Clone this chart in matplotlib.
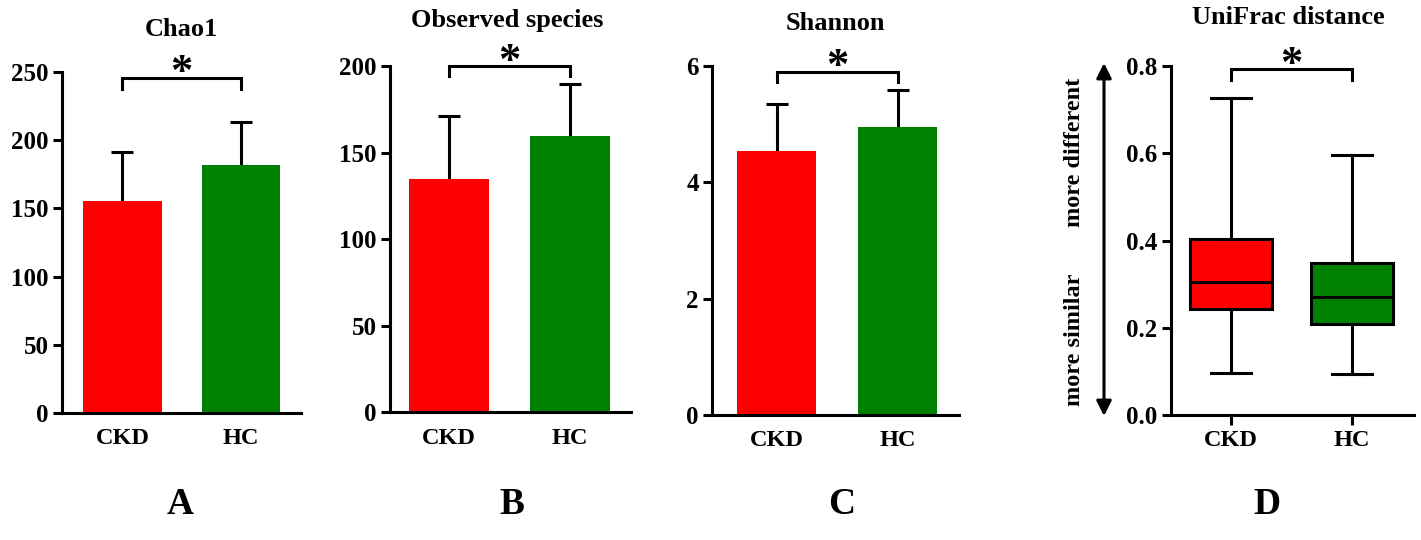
import matplotlib
matplotlib.use("Agg")
import matplotlib.pyplot as plt

# data
groups = ["CKD", "HC"]
colors = ["#ff0000", "#008000"]

chao1_mean = [155.5, 181.5]
chao1_sd = [36.0, 31.5]

observed_mean = [134.7, 159.5]
observed_sd = [36.6, 30.0]

shannon_mean = [4.54, 4.95]
shannon_sd = [0.80, 0.64]

unifrac_whislo = [0.096, 0.093]
unifrac_q1 = [0.243, 0.209]
unifrac_med = [0.306, 0.271]
unifrac_q3 = [0.403, 0.349]
unifrac_whishi = [0.726, 0.595]

W, H = 1421, 540
plt.rcParams['font.family'] = ['Liberation Serif', 'DejaVu Serif']
plt.rcParams['font.weight'] = 'bold'

LW = 2.2

fig = plt.figure(figsize=(W / 100, H / 100), dpi=100)


def px(x, y):
    return x / W, 1 - y / H


def style_axes(ax, xticks_len):
    for s in ['top', 'right']:
        ax.spines[s].set_visible(False)
    for s in ['left', 'bottom']:
        ax.spines[s].set_linewidth(LW)
    ax.tick_params(axis='y', length=6.5, width=LW, pad=3, labelsize=18)
    if xticks_len:
        ax.tick_params(axis='x', length=7, width=LW, pad=4, labelsize=17.5)
    else:
        ax.tick_params(axis='x', length=0, pad=11, labelsize=17.5)
    ax.set_xticks([0, 1])
    ax.set_xticklabels(groups, fontweight='bold')
    for lab in ax.get_yticklabels():
        lab.set_fontweight('bold')


def bracket(ax, y_top, y_end):
    ax.plot([0, 0, 1, 1], [y_end, y_top, y_top, y_end], color='black',
            lw=LW, clip_on=False, solid_joinstyle='miter')
    ax.annotate('*', xy=(0.5, y_top), xytext=(0, -11), textcoords='offset points',
                ha='center', va='bottom', fontsize=32, fontweight='bold',
                annotation_clip=False)


def bar_panel(rect, means, sds, ymax, yticks, xlim, title, title_xy, br):
    ax = fig.add_axes(rect)
    ax.bar([0, 1], means, width=0.66, color=colors, zorder=2)
    eb = ax.errorbar([0, 1], means, yerr=[[0, 0], sds], fmt='none', ecolor='black',
                     elinewidth=LW, capsize=8, capthick=LW, zorder=1)
    # only the upper cap is drawn
    eb[1][0].set_visible(False)
    ax.set_ylim(0, ymax)
    ax.set_yticks(yticks)
    ax.set_xlim(*xlim)
    style_axes(ax, False)
    bracket(ax, *br)
    fig.text(*px(*title_xy), title, ha='center', va='center', fontsize=19,
             fontweight='bold')
    return ax


bar_panel([62 / W, 127 / H, 239 / W, 341 / H], chao1_mean, chao1_sd, 250,
          [0, 50, 100, 150, 200, 250], (-0.51, 1.506), "Chao1", (181, 29),
          (245.5, 237.5))
bar_panel([390 / W, 127.7 / H, 241 / W, 346 / H], observed_mean, observed_sd, 200,
          [0, 50, 100, 150, 200], (-0.488, 1.504), "Observed species", (507, 21),
          (200, 194.4))
bar_panel([712 / W, 125 / H, 247 / W, 349 / H], shannon_mean, shannon_sd, 6,
          [0, 2, 4, 6], (-0.533, 1.508), "Shannon", (835, 24),
          (5.90, 5.72))

# box plot panel
axd = fig.add_axes([1170.7 / W, 125 / H, 243.3 / W, 349 / H])
stats = []
for i, g in enumerate(groups):
    stats.append(dict(label=g, med=unifrac_med[i], q1=unifrac_q1[i], q3=unifrac_q3[i],
                      whislo=unifrac_whislo[i], whishi=unifrac_whishi[i], fliers=[]))
bp = axd.bxp(stats, positions=[0, 1], widths=0.67, patch_artist=True,
             showfliers=False,
             boxprops=dict(linewidth=LW, edgecolor='black'),
             medianprops=dict(color='black', linewidth=LW),
             whiskerprops=dict(color='black', linewidth=LW),
             capprops=dict(color='black', linewidth=LW),
             capwidths=0.33)
for patch, c in zip(bp['boxes'], colors):
    patch.set_facecolor(c)
axd.set_ylim(0, 0.8)
axd.set_yticks([0, 0.2, 0.4, 0.6, 0.8])
axd.set_yticklabels(["0.0", "0.2", "0.4", "0.6", "0.8"])
axd.set_xlim(-0.498, 1.512)
style_axes(axd, True)
bracket(axd, 0.792, 0.768)
fig.text(*px(1288, 18), "UniFrac distance", ha='center', va='center',
         fontsize=19, fontweight='bold')

# double arrow and side labels
fig.add_artist(matplotlib.patches.FancyArrowPatch(
    px(1104, 416), px(1104, 63), transform=fig.transFigure,
    arrowstyle='<|-|>,head_length=9,head_width=4.5', color='black', lw=LW,
    shrinkA=0, shrinkB=0, mutation_scale=1))
fig.text(*px(1075, 340), "more similar", rotation=90, ha='center', va='center',
         fontsize=17.5, fontweight='bold')
fig.text(*px(1075, 152), "more different", rotation=90, ha='center', va='center',
         fontsize=17.5, fontweight='bold')

# panel letters
for letter, x in zip("ABCD", [180, 512, 842, 1267]):
    fig.text(*px(x, 505), letter, ha='center', va='center', fontsize=27,
             fontweight='bold')

fig.savefig("out.png", dpi=100)
